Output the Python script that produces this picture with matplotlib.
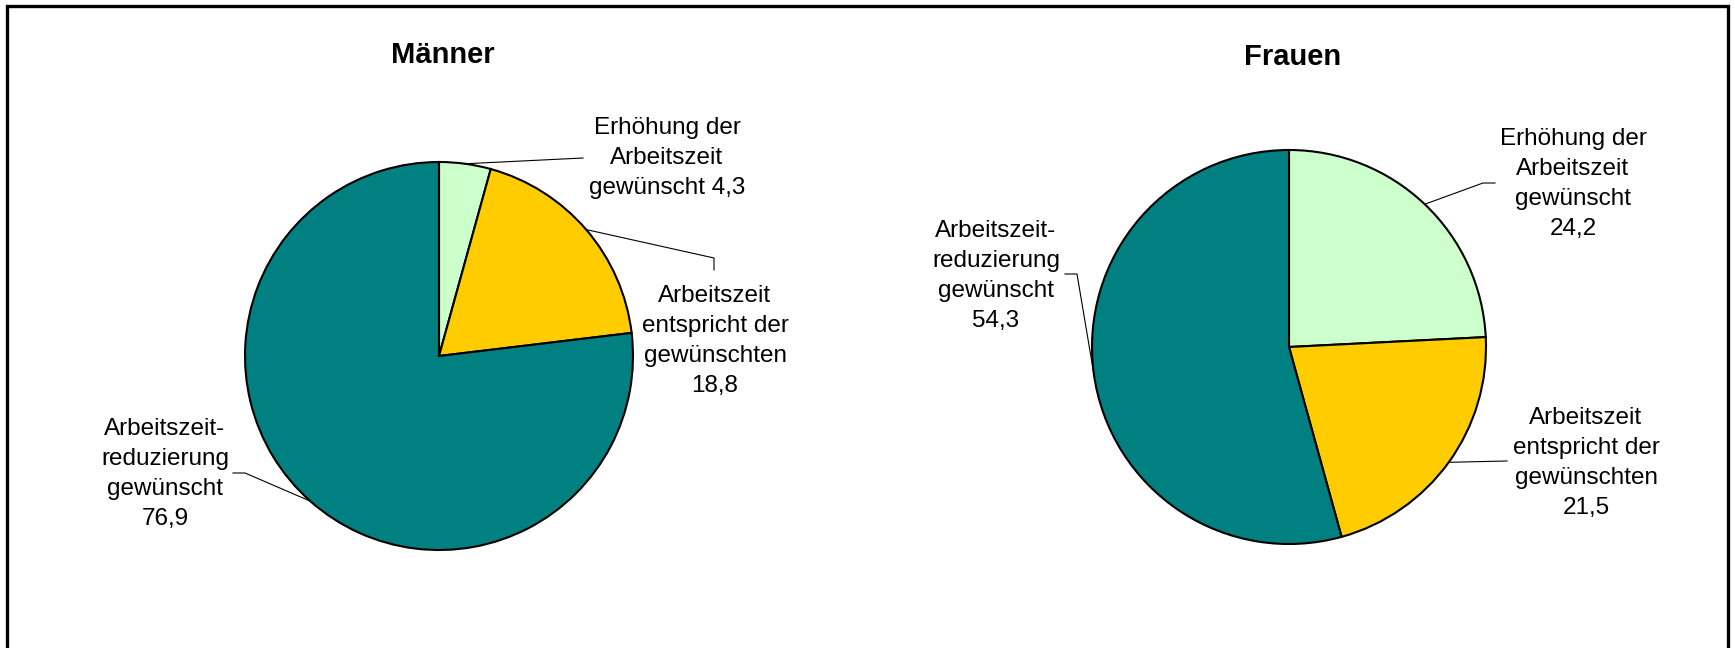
import numpy as np
import matplotlib.pyplot as plt
from matplotlib.patches import Rectangle

plt.rcParams['font.family'] = ['Liberation Sans', 'DejaVu Sans']

# ── Data ──────────────────────────────────────────────────────────────────────
categories = ["Erhöhung der Arbeitszeit gewünscht",
              "Arbeitszeit entspricht der gewünschten",
              "Arbeitszeitreduzierung gewünscht"]
maenner = [4.3, 18.8, 76.9]
frauen  = [24.2, 21.5, 54.3]
colors  = ['#CCFFCC', '#FFCC00', '#008080']

label_maenner = ["Erhöhung der\nArbeitszeit\ngewünscht {}",
                 "Arbeitszeit\nentspricht der\ngewünschten\n{}",
                 "Arbeitszeit-\nreduzierung\ngewünscht\n{}"]
label_frauen  = ["Erhöhung der\nArbeitszeit\ngewünscht\n{}",
                 "Arbeitszeit\nentspricht der\ngewünschten\n{}",
                 "Arbeitszeit-\nreduzierung\ngewünscht\n{}"]

# ── Layout (figure pixels, origin top-left) ───────────────────────────────────
W, H = 1735, 648
pies = [
    dict(title="Männer", values=maenner, labels=label_maenner,
         center=(439, 356), radius=194, title_xy=(443, 55),
         text_xy=[(667, 158), (715, 341), (165, 474)],
         elbows=[[(583, 158)], [(714, 258), (714, 270)], [(245, 473), (233, 473)]]),
    dict(title="Frauen", values=frauen, labels=label_frauen,
         center=(1289, 347), radius=197, title_xy=(1293, 57),
         text_xy=[(1573, 184), (1586, 463), (996, 276)],
         elbows=[[(1483, 183), (1495, 183)], [(1507, 461)], [(1077, 274), (1065, 274)]]),
]


def Y(y):
    return H - y


def fmt(v):
    return f"{v:.1f}".replace('.', ',')


fig = plt.figure(figsize=(W / 100, H / 100), dpi=100)
ax = fig.add_axes([0, 0, 1, 1])

for p in pies:
    cx, cy = p['center']
    r = p['radius']
    wedges, _ = ax.pie(p['values'], colors=colors, startangle=90, counterclock=False,
                       center=(cx, Y(cy)), radius=r,
                       wedgeprops=dict(edgecolor='black', linewidth=1.5))
    ax.text(p['title_xy'][0], Y(p['title_xy'][1]), p['title'], fontsize=21,
            fontweight='bold', ha='center', va='center')

    # leader lines start on the rim at the middle of each wedge
    for w, lab, val, txy, elb in zip(wedges, p['labels'], p['values'],
                                     p['text_xy'], p['elbows']):
        ang = np.deg2rad((w.theta1 + w.theta2) / 2)
        x0 = cx + r * np.cos(ang)
        y0 = Y(cy) + r * np.sin(ang)
        xs = [x0] + [e[0] for e in elb]
        ys = [y0] + [Y(e[1]) for e in elb]
        ax.plot(xs, ys, color='black', linewidth=0.8)
        ax.text(txy[0], Y(txy[1]), lab.format(fmt(val)), fontsize=17.5,
                ha='center', va='center', multialignment='center', linespacing=1.48)

ax.set_xlim(0, W)
ax.set_ylim(0, H)
ax.set_aspect('auto')
ax.axis('off')

# outer frame (bottom edge lies outside the picture)
fig.patches.append(Rectangle((7 / W, -0.05), (1728 - 7) / W, 1.05 - 6 / H,
                             transform=fig.transFigure, fill=False,
                             edgecolor='black', linewidth=2.4))

plt.savefig('out.png', dpi=100)
